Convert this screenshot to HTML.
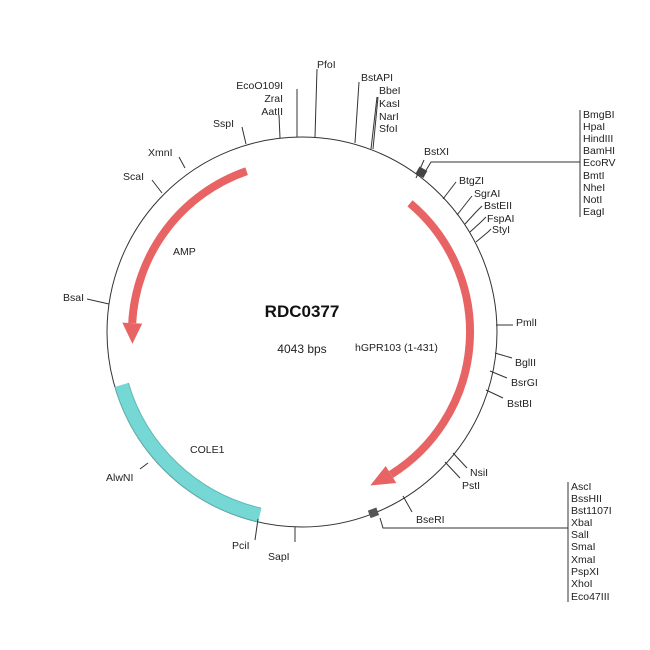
<!DOCTYPE html>
<html><head><meta charset="utf-8"><style>
html,body{margin:0;padding:0;background:#fff;}
svg{display:block;}
text{font-family:"Liberation Sans",Arial,sans-serif;font-size:10.5px;fill:#222;}
</style></head><body>
<svg width="650" height="650" viewBox="0 0 650 650" xmlns="http://www.w3.org/2000/svg">
<rect width="650" height="650" fill="#fff"/>
<circle cx="302" cy="332" r="195" fill="none" stroke="#333" stroke-width="1"/>
<!-- COLE1 -->
<path d="M259.7,515 A188,188 0 0 1 121.7,385" fill="none" stroke="#5fb8b6" stroke-width="15"/>
<path d="M259.7,515 A188,188 0 0 1 121.7,385" fill="none" stroke="#76d8d5" stroke-width="13"/>
<!-- AMP arrow -->
<path d="M246.6,171.2 A170,170 0 0 0 132.2,323.1" fill="none" stroke="#e86464" stroke-width="8"/>
<polygon points="142.2,323.6 122.3,322.6 132.4,343.9" fill="#e86464"/>
<!-- hGPR arrow -->
<path d="M410,203.3 A168,168 0 0 1 391,474.5" fill="none" stroke="#e86464" stroke-width="8"/>
<polygon points="385.7,466 396.3,483 370.3,485.5" fill="#e86464"/>
<g stroke="#333" stroke-width="1" fill="none">
<line x1="246" y1="144" x2="242" y2="127"/>
<line x1="280" y1="138" x2="279" y2="115"/>
<line x1="297" y1="137" x2="297" y2="89"/>
<line x1="315" y1="137" x2="317" y2="69"/>
<line x1="355" y1="143" x2="359" y2="82"/>
<line x1="371" y1="149" x2="377" y2="97"/>
<line x1="373" y1="149" x2="378" y2="97"/>
<polyline points="416,178 424,160"/>
<polyline points="425,172 431,162 580,162"/>
<line x1="580" y1="110" x2="580" y2="217"/>
<polyline points="443,199 456,182"/>
<polyline points="457,215 468,201 472,196"/>
<polyline points="465,224 476,212 482,206"/>
<polyline points="470,232 481,222 486,217"/>
<polyline points="476,242 488,232 491,229"/>
<line x1="496" y1="325" x2="513" y2="325"/>
<line x1="495" y1="353" x2="512" y2="358"/>
<line x1="490" y1="371" x2="507" y2="378"/>
<line x1="486" y1="390" x2="503" y2="398"/>
<line x1="453" y1="453" x2="467" y2="468"/>
<line x1="445" y1="462" x2="460" y2="478"/>
<line x1="403" y1="496" x2="412" y2="512"/>
<polyline points="380,518 383,528 568,528"/>
<line x1="568" y1="482" x2="568" y2="602"/>
<line x1="295" y1="527" x2="295" y2="542"/>
<line x1="258" y1="519" x2="255" y2="540"/>
<line x1="148" y1="463" x2="140" y2="469"/>
<line x1="109" y1="304" x2="87" y2="299"/>
<line x1="162" y1="193" x2="152" y2="180"/>
<line x1="185" y1="168" x2="179" y2="157"/>
</g>
<rect x="417" y="168" width="9" height="8" fill="#444" transform="rotate(30 421 172)"/>
<rect x="369" y="509" width="9" height="8" fill="#555" transform="rotate(-20 373 513)"/>
<g>
<text x="213" y="127">SspI</text>
<text x="283" y="89" text-anchor="end">EcoO109I</text>
<text x="283" y="102" text-anchor="end">ZraI</text>
<text x="283" y="115" text-anchor="end">AatII</text>
<text x="317" y="68">PfoI</text>
<text x="361" y="81">BstAPI</text>
<text x="379" y="94">BbeI</text>
<text x="379" y="107">KasI</text>
<text x="379" y="120">NarI</text>
<text x="379" y="132">SfoI</text>
<text x="424" y="155">BstXI</text>
<text x="583" y="118">BmgBI</text>
<text x="583" y="130">HpaI</text>
<text x="583" y="142">HindIII</text>
<text x="583" y="154">BamHI</text>
<text x="583" y="166">EcoRV</text>
<text x="583" y="179">BmtI</text>
<text x="583" y="191">NheI</text>
<text x="583" y="203">NotI</text>
<text x="583" y="215">EagI</text>
<text x="459" y="184">BtgZI</text>
<text x="474" y="197">SgrAI</text>
<text x="484" y="209">BstEII</text>
<text x="487" y="222">FspAI</text>
<text x="492" y="233">StyI</text>
<text x="516" y="326">PmlI</text>
<text x="515" y="366">BglII</text>
<text x="511" y="386">BsrGI</text>
<text x="507" y="407">BstBI</text>
<text x="470" y="476">NsiI</text>
<text x="462" y="489">PstI</text>
<text x="416" y="523">BseRI</text>
<text x="571" y="490">AscI</text>
<text x="571" y="502">BssHII</text>
<text x="571" y="514">Bst1107I</text>
<text x="571" y="526">XbaI</text>
<text x="571" y="538">SalI</text>
<text x="571" y="550">SmaI</text>
<text x="571" y="563">XmaI</text>
<text x="571" y="575">PspXI</text>
<text x="571" y="587">XhoI</text>
<text x="571" y="600">Eco47III</text>
<text x="268" y="560">SapI</text>
<text x="232" y="549">PciI</text>
<text x="106" y="481">AlwNI</text>
<text x="63" y="301">BsaI</text>
<text x="123" y="180">ScaI</text>
<text x="148" y="156">XmnI</text>
<text x="173" y="255">AMP</text>
<text x="190" y="453">COLE1</text>
<text x="355" y="351">hGPR103 (1-431)</text>
<text x="302" y="353" text-anchor="middle" style="font-size:12px">4043 bps</text>
<text x="302" y="317" text-anchor="middle" style="font-size:17px;font-weight:bold;fill:#111">RDC0377</text>
</g>
</svg>
</body></html>
